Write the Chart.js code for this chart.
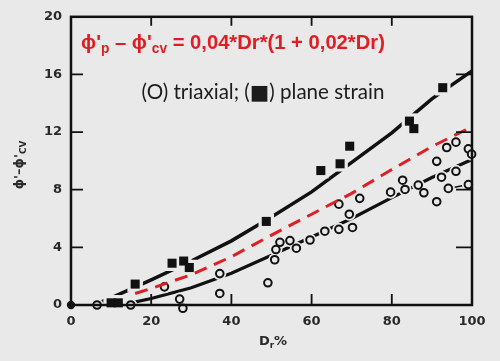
<!DOCTYPE html>
<html>
<head>
<meta charset="utf-8">
<script src="https://cdn.jsdelivr.net/npm/chart.js@4.4.1/dist/chart.umd.min.js"></script>
<style>
  html, body { margin: 0; padding: 0; background: #e9e9e9; }
  #wrap { width: 500px; height: 361px; }
</style>
</head>
<body>
<div id="wrap"><canvas id="chart" width="500" height="361"></canvas></div>
<script>
// tick labels
const xTicks = [0, 20, 40, 60, 80, 100];
const yTicks = [0, 4, 8, 12, 16, 20];

// triaxial tests (open circles)
const triaxialX = [6.5, 14.9, 23.3, 27.1, 27.9, 37.1, 37.1, 49.1, 50.8, 51.1, 52.1, 54.6, 56.2, 59.6, 63.3, 66.8, 70.2, 69.4, 66.8, 72.0, 79.7, 83.3, 82.7, 86.6, 88.0, 91.2, 91.2, 92.4, 94.1, 96.0, 93.7, 96.0, 99.1, 99.9, 99.1];
const triaxialY = [0, 0, 1.26, 0.41, -0.23, 2.18, 0.8, 1.54, 3.14, 3.85, 4.35, 4.47, 3.94, 4.51, 5.12, 5.25, 5.38, 6.3, 7.0, 7.4, 7.83, 8.02, 8.66, 8.32, 7.79, 7.17, 9.97, 8.87, 8.09, 9.28, 10.93, 11.3, 10.84, 10.47, 8.36];

// plane strain tests (filled squares)
const planeX = [10.0, 11.8, 16.0, 25.2, 28.1, 29.5, 48.7, 62.3, 67.1, 69.5, 84.4, 85.5, 92.7];
const planeY = [0.15, 0.15, 1.45, 2.9, 3.05, 2.6, 5.8, 9.33, 9.8, 11.02, 12.76, 12.24, 15.08];

// origin point
const originX = [0];
const originY = [0];

// upper fitted curve (plane strain)
const upperX = [6.5, 10, 20, 30, 40, 50, 60, 70, 80, 90, 100];
const upperY = [0.1, 0.5, 1.75, 3.05, 4.45, 6.1, 7.85, 9.9, 11.95, 14.3, 16.25];

// lower fitted curve (triaxial)
const lowerX = [9, 15, 20, 30, 40, 50, 60, 70, 80, 90, 100];
const lowerY = [0.1, 0.15, 0.45, 1.2, 2.2, 3.45, 4.72, 6.0, 7.45, 8.85, 10.1];

// red dashed relation
const redX = [16, 20, 30, 40, 50, 60, 70, 80, 90, 99.5];
const redY = [0.8, 1.15, 2.1, 3.35, 4.85, 6.3, 7.75, 9.4, 11.0, 12.3];

// short connector near the right edge
const stubX = [94.1, 99.1];
const stubY = [8.09, 8.36];

const BG = '#e9e9e9';
const INK = '#111111';
const RED = 'rgb(222, 30, 34)';

function pts(xs, ys) {
  return xs.map((x, i) => ({ x: x, y: ys[i] }));
}

// draws text runs with subscripts; if fitWidth is given the font is scaled to it
function drawRich(ctx, parts, x, y, size, weight, family, color, align, fitWidth) {
  const measure = s => {
    let total = 0;
    const widths = parts.map(p => {
      ctx.font = weight + ' ' + (p.sub ? s * 0.68 : s) + 'px ' + family;
      const w = ctx.measureText(p.t).width;
      total += w;
      return w;
    });
    return { total, widths };
  };
  let m = measure(size);
  if (fitWidth) {
    size = size * fitWidth / m.total;
    m = measure(size);
  }
  let cx = align === 'center' ? x - m.total / 2 : x;
  ctx.fillStyle = color;
  ctx.textBaseline = 'middle';
  ctx.textAlign = 'left';
  parts.forEach((p, i) => {
    ctx.font = weight + ' ' + (p.sub ? size * 0.68 : size) + 'px ' + family;
    ctx.fillText(p.t, cx, y + (p.sub ? size * 0.32 : 0));
    cx += m.widths[i];
  });
}

const framePlugin = {
  id: 'frame',
  beforeDraw(chart) {
    const ctx = chart.ctx;
    ctx.save();
    ctx.fillStyle = BG;
    ctx.fillRect(0, 0, chart.width, chart.height);
    ctx.restore();
  },
  afterDatasetsDraw(chart) {
    const ctx = chart.ctx;
    const a = chart.chartArea;
    const sx = chart.scales.x, sy = chart.scales.y;
    ctx.save();
    ctx.strokeStyle = INK;
    ctx.lineWidth = 2.5;
    ctx.strokeRect(a.left, a.top, a.right - a.left, a.bottom - a.top);
    ctx.lineWidth = 1.8;
    ctx.beginPath();
    xTicks.slice(1, -1).forEach(v => {
      const px = sx.getPixelForValue(v);
      ctx.moveTo(px, a.bottom); ctx.lineTo(px, a.bottom - 11);
      ctx.moveTo(px, a.top); ctx.lineTo(px, a.top + 9);
    });
    yTicks.slice(1, -1).forEach(v => {
      const py = sy.getPixelForValue(v);
      ctx.moveTo(a.left, py); ctx.lineTo(a.left + 12, py);
      ctx.moveTo(a.right, py); ctx.lineTo(a.right - 16, py);
    });
    ctx.stroke();
    ctx.restore();
  },
  afterDraw(chart) {
    const ctx = chart.ctx;
    ctx.save();
    // formula
    drawRich(ctx, [
      { t: 'ϕ\'' }, { t: 'p', sub: true }, { t: ' – ϕ\'' }, { t: 'cv', sub: true },
      { t: ' = 0,04*Dr*(1 + 0,02*Dr)' }
    ], 81, 43, 16, 'bold', '"Liberation Sans", "DejaVu Sans", sans-serif', RED, 'left', 304);
    // legend line
    drawRich(ctx, [{ t: '(O) triaxial; (■) plane strain' }],
      263, 92, 18, 'normal', 'Lato, "DejaVu Sans", sans-serif', '#1c1c1c', 'center', 243);
    // x title
    drawRich(ctx, [{ t: 'D' }, { t: 'r', sub: true }, { t: '%' }],
      273, 342, 13, 'bold', '"DejaVu Sans", sans-serif', '#2a2a2a', 'center');
    // y title
    ctx.translate(20, 165);
    ctx.rotate(-Math.PI / 2);
    drawRich(ctx, [{ t: 'ϕ\'–ϕ\'' }, { t: 'CV', sub: true }],
      0, 0, 13, 'bold', '"DejaVu Sans", sans-serif', '#2a2a2a', 'center');
    ctx.restore();
  }
};

const tickFont = { family: '"DejaVu Sans", sans-serif', size: 13, weight: 'bold' };

new Chart(document.getElementById('chart'), {
  type: 'scatter',
  data: {
    datasets: [
      {
        data: pts(redX, redY), showLine: true, pointRadius: 0,
        borderColor: RED, borderWidth: 3, borderDash: [13, 8],
        order: 0, clip: false
      },
      {
        data: pts(triaxialX, triaxialY), pointStyle: 'circle', pointRadius: 3.8,
        borderColor: INK, pointBorderWidth: 2, backgroundColor: BG,
        order: 1, clip: false
      },
      {
        data: pts(planeX, planeY), pointStyle: 'rect', pointRadius: 6.4,
        borderColor: INK, pointBorderWidth: 0, backgroundColor: INK,
        order: 1, clip: false
      },
      {
        data: pts(originX, originY), pointStyle: 'circle', pointRadius: 4.2,
        borderColor: INK, pointBorderWidth: 0, backgroundColor: INK,
        order: 1, clip: false
      },
      {
        data: pts(planeX, planeY), pointStyle: 'rect', pointRadius: 11,
        borderColor: BG, pointBorderWidth: 0, backgroundColor: BG,
        order: 2, clip: false
      },
      {
        data: pts(triaxialX, triaxialY), pointStyle: 'circle', pointRadius: 6.5,
        borderColor: BG, pointBorderWidth: 0, backgroundColor: BG,
        order: 2, clip: false
      },
      {
        data: pts(upperX, upperY), showLine: true, pointRadius: 0,
        borderColor: INK, borderWidth: 3.5, order: 3, clip: false
      },
      {
        data: pts(lowerX, lowerY), showLine: true, pointRadius: 0,
        borderColor: INK, borderWidth: 3.2, order: 3, clip: false
      },
      {
        data: pts(stubX, stubY), showLine: true, pointRadius: 0,
        borderColor: INK, borderWidth: 1.5, order: 3, clip: false
      }
    ]
  },
  options: {
    responsive: false,
    animation: false,
    events: [],
    layout: { padding: { top: 14, right: 28, left: 0, bottom: 0 } },
    plugins: { legend: { display: false }, tooltip: { enabled: false } },
    scales: {
      x: {
        type: 'linear', min: 0, max: 100,
        afterBuildTicks: s => { s.ticks = xTicks.map(v => ({ value: v })); },
        afterFit: s => { s.height = 56; },
        grid: { display: false, drawTicks: false },
        border: { display: false },
        ticks: { font: tickFont, color: '#2a2a2a', padding: 9, maxRotation: 0 }
      },
      y: {
        type: 'linear', min: 0, max: 20,
        afterBuildTicks: s => { s.ticks = yTicks.map(v => ({ value: v })); },
        afterFit: s => { s.width = 71; },
        grid: { display: false, drawTicks: false },
        border: { display: false },
        ticks: { font: tickFont, color: '#2a2a2a', padding: 9 }
      }
    }
  },
  plugins: [framePlugin]
});
</script>
</body>
</html>
